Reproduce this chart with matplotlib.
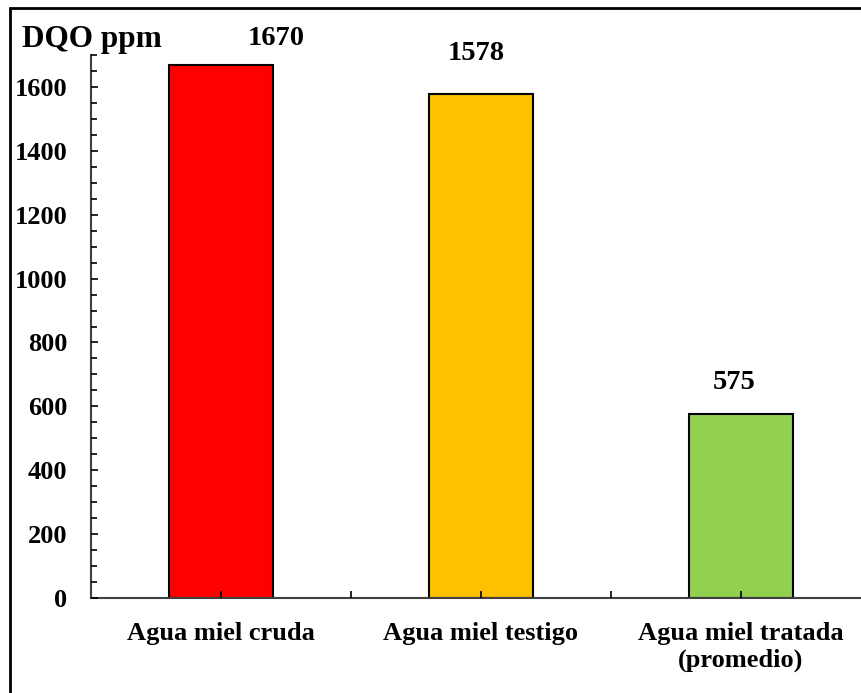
import matplotlib.pyplot as plt
import matplotlib.patches as mpatches
from matplotlib.ticker import MultipleLocator, FixedLocator

categorias = ["Agua miel cruda", "Agua miel testigo", "Agua miel tratada\n(promedio)"]
dqo = [1670, 1578, 575]
colores = ["#FF0000", "#FFC000", "#92D050"]
etiquetas = ["1670", "1578", "575"]

plt.rcParams['font.family'] = ['Liberation Serif', 'DejaVu Serif']
plt.rcParams['font.weight'] = 'bold'

fig = plt.figure(figsize=(8.61, 6.93), dpi=100)
ax = fig.add_axes([91/861, 95/693, 780/861, 543/693])

x = range(len(dqo))
ax.bar(x, dqo, width=0.4, color=colores, edgecolor='black', linewidth=1.5, zorder=2)
ax.set_axisbelow(False)

# etiquetas de valor (la primera corrida a la derecha como en el original)
offsets = [(40, 19), (-3.5, 29), (-5, 23)]
for i, (v, t) in enumerate(zip(dqo, etiquetas)):
    ax.annotate(t, (i, v), xytext=offsets[i], textcoords='offset points',
                ha='center', va='center', fontsize=20.5, fontweight='bold')

ax.set_xlim(-0.5, 2.5)
ax.set_ylim(0, 1700)
ax.yaxis.set_major_locator(MultipleLocator(200))
ax.yaxis.set_minor_locator(MultipleLocator(50))
ax.xaxis.set_major_locator(FixedLocator([0.5, 1.5, 2.5]))
ax.xaxis.set_minor_locator(FixedLocator([0, 1, 2]))
ax.xaxis.set_minor_formatter(plt.FixedFormatter(categorias))
ax.xaxis.set_major_formatter(plt.NullFormatter())

ax.tick_params(axis='y', which='both', direction='in', width=1.2, labelsize=19, pad=17)
ax.tick_params(axis='y', which='major', length=5)
ax.tick_params(axis='y', which='minor', length=4)
ax.tick_params(axis='x', which='both', direction='in', width=1.2, length=5, labelsize=19, pad=17)
for lab in ax.get_yticklabels() + ax.get_xticklabels(minor=True):
    lab.set_fontweight('bold')
    lab.set_linespacing(1.2)

for s in ['top', 'right']:
    ax.spines[s].set_visible(False)
for s in ['left', 'bottom']:
    ax.spines[s].set_linewidth(1.5)
    ax.spines[s].set_color('#404040')

fig.text(22/861, 1 - 40/693, "DQO ppm", fontsize=22.5, fontweight='bold', va='center', ha='left')

borde = mpatches.Rectangle((10/861, -0.1), 1.2, 1.1 - 8/693, transform=fig.transFigure,
                           fill=False, edgecolor='black', linewidth=2)
fig.add_artist(borde)

fig.savefig("out.png", dpi=100)
